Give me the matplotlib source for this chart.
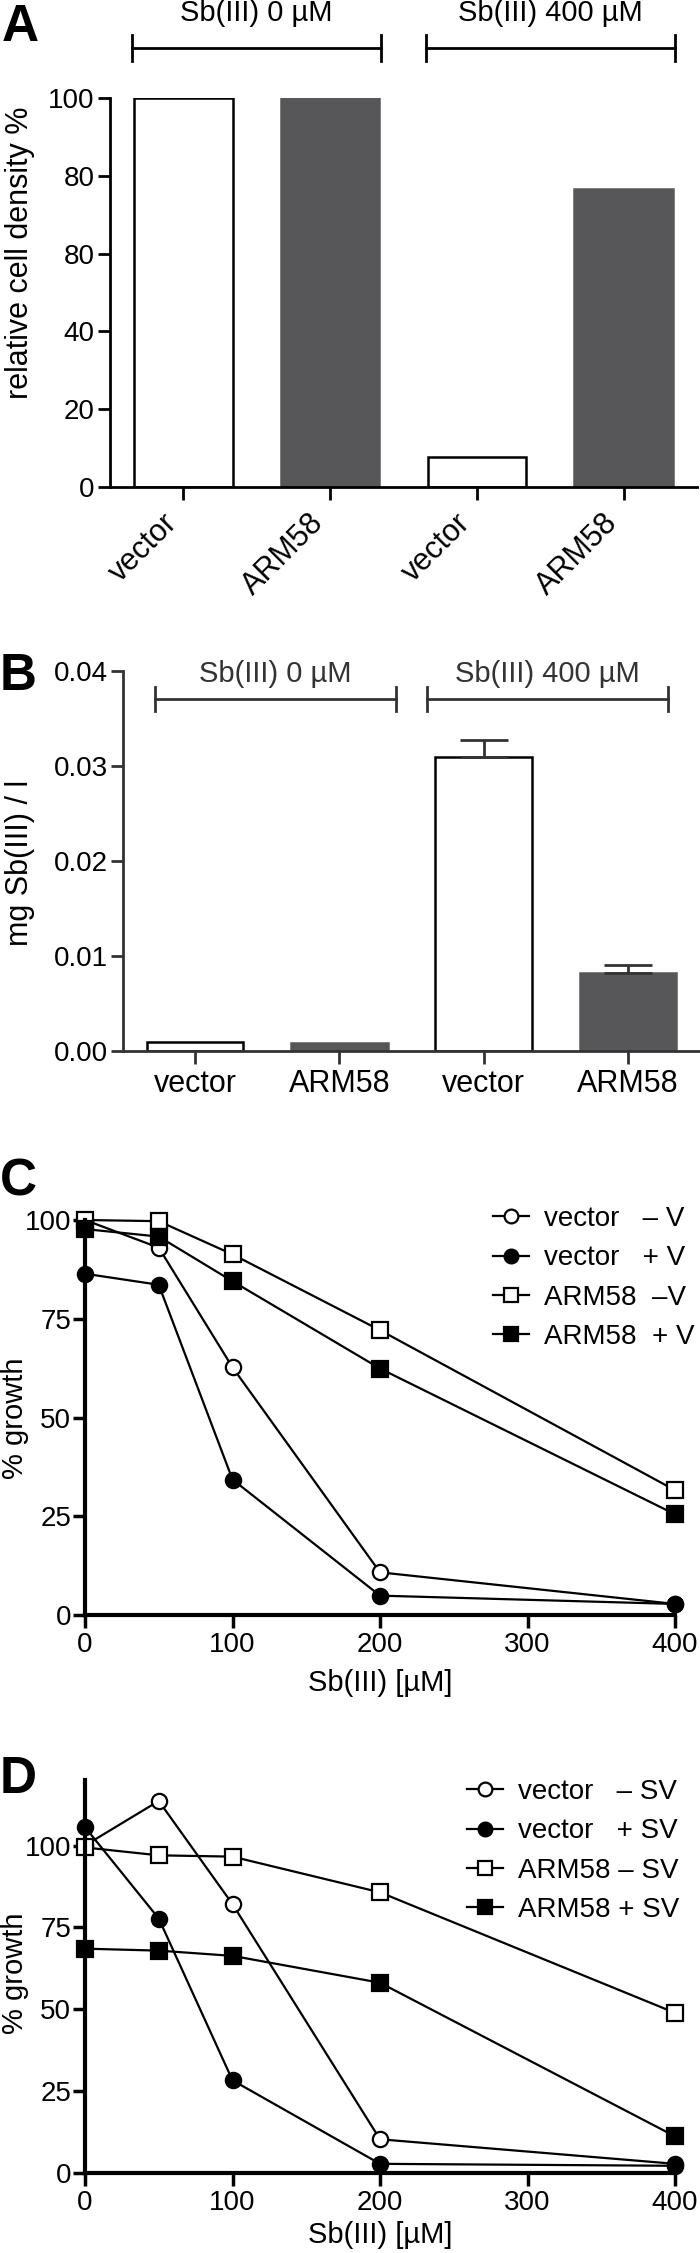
import numpy as np
import matplotlib.pyplot as plt
from matplotlib import transforms

plt.rc('font', family='Liberation Sans', size=20)

W, H = 700, 2253
fig = plt.figure(figsize=(W / 100, H / 100), dpi=100)

# ---- data ----
groups = ['vector', 'ARM58', 'vector', 'ARM58']
treatments = ['Sb(III) 0 µM', 'Sb(III) 400 µM']

density = [100, 100, 7.7, 76.6]
density_ticks = [0, 20, 40, 60, 80, 100]
density_ticklabels = ['0', '20', '40', '80', '80', '100']

uptake = [0.0009, 0.0008, 0.031, 0.0082]
uptake_err = [0, 0, 0.0017, 0.0009]
uptake_ticks = [0, 0.01, 0.02, 0.03, 0.04]

conc = [0, 50, 100, 200, 400]
conc_ticks = [0, 100, 200, 300, 400]
growth_ticks = [0, 25, 50, 75, 100]

labels_c = ['vector   – V', 'vector   + V', 'ARM58  –V', 'ARM58  + V']
vec_minus_v = [100, 93, 62.7, 10.8, 2.8]
vec_plus_v = [86.4, 83.6, 34.3, 4.9, 2.8]
arm_minus_v = [100, 99.7, 91.3, 72.1, 31.6]
arm_plus_v = [97.7, 95.8, 84.5, 62.4, 25.5]

labels_d = ['vector   – SV', 'vector   + SV', 'ARM58 – SV', 'ARM58 + SV']
vec_minus_sv = [100, 113.6, 82.1, 10.3, 2.8]
vec_plus_sv = [105.6, 77.7, 28.3, 2.8, 2.2]
arm_minus_sv = [99.4, 97, 96.6, 85.7, 48.9]
arm_plus_sv = [68.5, 67.9, 66.3, 58.1, 11.2]

DARK = '#575759'


def box(l, t, r, b):
    return [l / W, 1 - b / H, (r - l) / W, (b - t) / H]


def clean(ax, lw):
    for s in ['top', 'right']:
        ax.spines[s].set_visible(False)
    for s in ['left', 'bottom']:
        ax.spines[s].set_linewidth(lw)


def bracket(ax, cx, half, y, h, label, ty, color):
    tr = transforms.blended_transform_factory(ax.transData, ax.transAxes)
    kw = dict(transform=tr, clip_on=False, color=color, lw=2)
    ax.plot([cx - half, cx + half], [y, y], **kw)
    ax.plot([cx - half, cx - half], [y - h, y + h], **kw)
    ax.plot([cx + half, cx + half], [y - h, y + h], **kw)
    ax.text(cx, ty, label, transform=tr, ha='center', va='center',
            fontsize=21, color=color)


def bars(ax, vals):
    x = np.arange(len(vals))
    fills = ['white', DARK, 'white', DARK]
    edges = ['black', DARK, 'black', DARK]
    ax.bar(x, vals, width=0.67, color=fills, edgecolor=edges, linewidth=1.8)
    ax.set_xlim(-0.5, 3.5)
    ax.set_xticks(x)
    return x


# ---- A ----
ax = fig.add_axes(box(110, 98, 697, 487))
x = bars(ax, density)
ax.set_ylim(0, 100)
ax.set_yticks(density_ticks)
ax.set_yticklabels(density_ticklabels)
ax.set_xticklabels(groups, rotation=45, ha='right', fontsize=22)
clean(ax, 2)
ax.tick_params(axis='y', width=2, length=9, pad=2, labelsize=20)
ax.tick_params(axis='x', width=2, length=9, pad=6)
bracket(ax, 0.5, 0.85, 1.128, 0.034, treatments[0], 1.219, 'black')
bracket(ax, 2.5, 0.85, 1.128, 0.034, treatments[1], 1.219, 'black')
fig.text(20 / W, 1 - 253 / H, 'relative cell density %', rotation=90,
         ha='center', va='center', fontsize=22)
fig.text(2 / W, 1 - 41 / H, 'A', fontsize=37, fontweight='bold', va='baseline')

# ---- B ----
ax = fig.add_axes(box(123, 671, 700, 1051))
x = bars(ax, uptake)
ax.errorbar(x[2:], uptake[2:], yerr=[np.zeros(2), uptake_err[2:]], fmt='none',
            ecolor='#333333', elinewidth=2, capsize=17, capthick=2)
ax.set_ylim(0, 0.04)
ax.set_yticks(uptake_ticks)
ax.set_yticklabels(['%.2f' % t for t in uptake_ticks])
ax.set_xticklabels(groups)
clean(ax, 2)
for s in ['left', 'bottom']:
    ax.spines[s].set_color('#333333')
ax.tick_params(axis='both', width=2, length=9, color='#333333', labelsize=20)
ax.tick_params(axis='y', pad=2)
ax.tick_params(axis='x', pad=4, labelsize=22)
bracket(ax, 0.555, 0.835, 0.926, 0.032, treatments[0], 0.992, '#333333')
bracket(ax, 2.445, 0.835, 0.926, 0.032, treatments[1], 0.992, '#333333')
fig.text(20 / W, 1 - 863 / H, 'mg Sb(III) / l', rotation=90,
         ha='center', va='center', fontsize=22)
fig.text(0 / W, 1 - 690 / H, 'B', fontsize=37, fontweight='bold', va='baseline')


# ---- C and D ----
def growth(ax, series, labels, ymax, leg_x, leg_top, ylab_y, xlab_y):
    styles = [('o', 'white'), ('o', 'black'), ('s', 'white'), ('s', 'black')]
    for vals, lab, (m, fc) in zip(series, labels, styles):
        ax.plot(conc, vals, '-', color='black', lw=1.6, marker=m, mfc=fc,
                mec='black', ms=11, mew=1.6, clip_on=False, label=lab)
    ax.set_xlim(0, 400)
    ax.set_ylim(0, ymax)
    ax.set_xticks(conc_ticks)
    ax.set_yticks(growth_ticks)
    clean(ax, 3)
    ax.tick_params(axis='both', width=2.5, length=9, labelsize=20)
    ax.tick_params(axis='y', pad=1)
    ax.tick_params(axis='x', pad=3)
    ax.legend(loc='upper left', bbox_to_anchor=(leg_x / W, 1 - leg_top / H),
              bbox_transform=fig.transFigure, frameon=False, fontsize=20,
              handlelength=1.3, handletextpad=0.55, labelspacing=0.48,
              borderpad=0, borderaxespad=0, markerscale=0.9)
    fig.text(15 / W, 1 - ylab_y / H, '% growth', rotation=90,
             ha='center', va='center', fontsize=21)
    fig.text(380 / W, 1 - xlab_y / H, 'Sb(III) [µM]',
             ha='center', va='center', fontsize=21)


ax = fig.add_axes(box(85, 1220, 675, 1615))
growth(ax, [vec_minus_v, vec_plus_v, arm_minus_v, arm_plus_v], labels_c,
       100, 493, 1206, 1418, 1683)
fig.text(0 / W, 1 - 1196 / H, 'C', fontsize=37, fontweight='bold', va='baseline')

ax = fig.add_axes(box(85, 1780, 675, 2173))
growth(ax, [vec_minus_sv, vec_plus_sv, arm_minus_sv, arm_plus_sv], labels_d,
       120, 467, 1779, 1973, 2235)
fig.text(0 / W, 1 - 1793 / H, 'D', fontsize=37, fontweight='bold', va='baseline')

fig.savefig('out.png', dpi=100)
